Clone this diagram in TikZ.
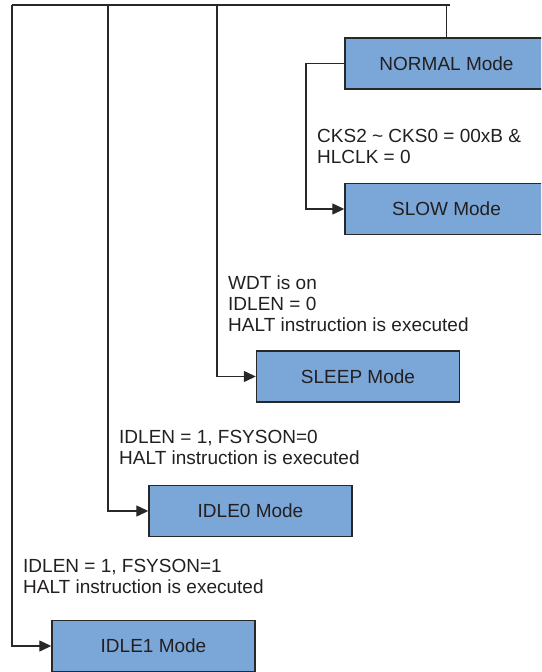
\documentclass[tikz,border=0pt]{standalone}
\usepackage{fontspec}
\setmainfont{Liberation Sans}
\definecolor{modefill}{RGB}{123,167,216}
\definecolor{lineclr}{RGB}{40,40,40}
\definecolor{txtclr}{RGB}{35,31,32}
\usetikzlibrary{arrows.meta,shapes}
\tikzstyle{mode}=[rectangle,draw=lineclr,fill=modefill,line width=1.4pt,minimum width=203pt,minimum height=51pt,inner sep=0pt,text=txtclr]
\tikzstyle{cond}=[anchor=north west,align=left,inner sep=0pt,text=txtclr]
\tikzstyle{edge} = [draw,line width=1.3pt,color=lineclr,-]
\tikzstyle{dedge} = [draw,line width=1.3pt,color=lineclr,-{Triangle[length=12pt,width=11pt]}]

\begin{document}
\begin{tikzpicture}[x=1pt,y=-1pt,font=\fontsize{19}{21}\selectfont]
                    \clip (0,0) rectangle (541,672);

                    \node[mode] (normal) at (446.5,63.5) {NORMAL Mode};
                    \node[mode] (slow) at (446.5,209) {SLOW Mode};
                    \node[mode] (sleep) at (358,376.5) {SLEEP Mode};
                    \node[mode] (idlezero) at (250.5,511) {IDLE0 Mode};
                    \node[mode] (idleone) at (153.5,646) {IDLE1 Mode};

                    \coordinate (bone) at (12,5);
                    \coordinate (bzero) at (108,5);
                    \coordinate (bsleep) at (217,5);
                    \coordinate (bslow) at (306,63.5);
                    \coordinate (bend) at (450,5);

                    \path[edge] (normal.north) -- (normal.north |- bend) -- (bend);
                    \path[edge] (normal.north |- bend) -- (bone);
                    \path[dedge] (bone) |- (idleone.west);
                    \path[dedge] (bzero) |- (idlezero.west);
                    \path[dedge] (bsleep) |- (sleep.west);
                    \path[dedge] (normal.west) -- (bslow) |- (slow.west);

                    \node[cond] (cslow) at (317,129) {CKS2 \textasciitilde{} CKS0 = 00xB \&\\HLCLK = 0};
                    \node[cond] (csleep) at (228,276) {WDT is on\\IDLEN = 0\\HALT instruction is executed};
                    \node[cond] (czero) at (119,430) {IDLEN = 1, FSYSON=0\\HALT instruction is executed};
                    \node[cond] (cone) at (23,559) {IDLEN = 1, FSYSON=1\\HALT instruction is executed};
                \end{tikzpicture}
\end{document}
